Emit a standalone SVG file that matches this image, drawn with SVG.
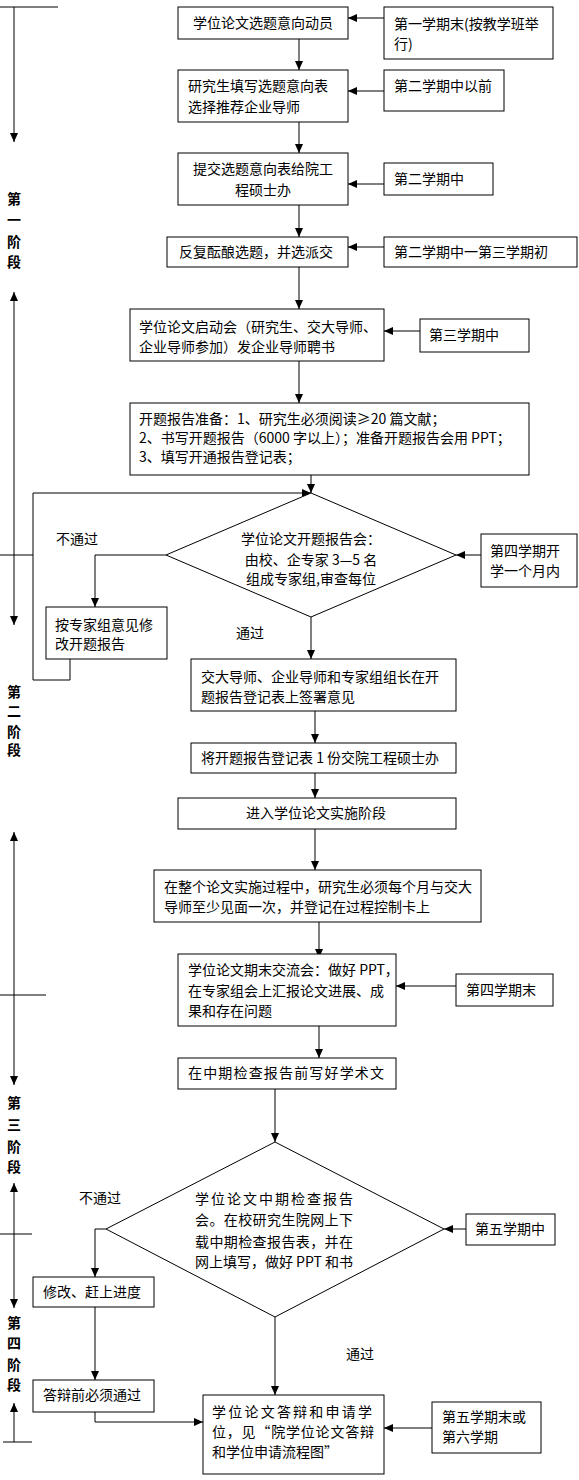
<svg xmlns="http://www.w3.org/2000/svg" width="579" height="1480" viewBox="0 0 579 1480">
<style>
.b{fill:#fff;stroke:#000;stroke-width:1}
.t{font-family:"Noto Sans CJK SC","Liberation Serif",sans-serif;font-size:14px;fill:#000}
.m{text-anchor:middle}
.s{font-family:"Noto Sans CJK SC",sans-serif;font-size:14px;font-weight:bold;text-anchor:middle;fill:#000}
.c{fill:none;stroke:#000;stroke-width:1}
</style>
<defs>
<marker id="a" markerUnits="userSpaceOnUse" markerWidth="9" markerHeight="8" refX="9" refY="4" orient="auto-start-reverse" viewBox="0 0 9 8"><path d="M0,0L9,4L0,8z" fill="#000"/></marker>
</defs>
<rect width="579" height="1480" fill="#fff"/>
<g id="connectors">
<line class="c" x1="0" y1="7" x2="58" y2="7"/>
<line class="c" x1="14" y1="7" x2="14" y2="142" marker-end="url(#a)"/>
<line class="c" x1="14" y1="292" x2="14" y2="625" marker-start="url(#a)" marker-end="url(#a)"/>
<line class="c" x1="0" y1="555" x2="33" y2="555"/>
<line class="c" x1="14" y1="832" x2="14" y2="1085" marker-start="url(#a)" marker-end="url(#a)"/>
<line class="c" x1="0" y1="995" x2="46" y2="995"/>
<line class="c" x1="14" y1="1183" x2="14" y2="1308" marker-start="url(#a)" marker-end="url(#a)"/>
<line class="c" x1="0" y1="1234" x2="32" y2="1234"/>
<line class="c" x1="14" y1="1442" x2="14" y2="1403" marker-end="url(#a)"/>
<line class="c" x1="3" y1="1442" x2="32" y2="1442"/>
<line class="c" x1="384" y1="18" x2="348" y2="18" marker-end="url(#a)"/>
<line class="c" x1="384" y1="91" x2="348" y2="91" marker-end="url(#a)"/>
<line class="c" x1="384" y1="184" x2="348" y2="184" marker-end="url(#a)"/>
<line class="c" x1="384" y1="247" x2="348" y2="247" marker-end="url(#a)"/>
<line class="c" x1="299" y1="39" x2="299" y2="70" marker-end="url(#a)"/>
<line class="c" x1="299" y1="122" x2="299" y2="153" marker-end="url(#a)"/>
<line class="c" x1="299" y1="205" x2="299" y2="237" marker-end="url(#a)"/>
<line class="c" x1="299" y1="267" x2="299" y2="309" marker-end="url(#a)"/>
<line class="c" x1="299" y1="361" x2="299" y2="403" marker-end="url(#a)"/>
<line class="c" x1="420" y1="331" x2="384" y2="331" marker-end="url(#a)"/>
<line class="c" x1="311" y1="475" x2="311" y2="493" marker-end="url(#a)"/>
<line class="c" x1="481" y1="555" x2="456" y2="555" marker-end="url(#a)"/>
<polyline class="c" points="166,555 95,555 95,607" marker-end="url(#a)"/>
<polyline class="c" points="70,659 70,680 33,680 33,493 311,493" marker-end="url(#a)"/>
<line class="c" x1="311" y1="617" x2="311" y2="659" marker-end="url(#a)"/>
<line class="c" x1="315" y1="711" x2="315" y2="743" marker-end="url(#a)"/>
<line class="c" x1="315" y1="773" x2="315" y2="798" marker-end="url(#a)"/>
<line class="c" x1="315" y1="829" x2="315" y2="870" marker-end="url(#a)"/>
<line class="c" x1="319" y1="922" x2="319" y2="958" marker-end="url(#a)"/>
<line class="c" x1="456" y1="986" x2="396" y2="986" marker-end="url(#a)"/>
<line class="c" x1="319" y1="1026" x2="319" y2="1058" marker-end="url(#a)"/>
<line class="c" x1="275" y1="1089" x2="275" y2="1142" marker-end="url(#a)"/>
<line class="c" x1="466" y1="1229" x2="444" y2="1229" marker-end="url(#a)"/>
<polyline class="c" points="106,1229 95,1229 95,1277" marker-end="url(#a)"/>
<line class="c" x1="95" y1="1307" x2="95" y2="1380" marker-end="url(#a)"/>
<polyline class="c" points="95,1412 95,1422 203,1422" marker-end="url(#a)"/>
<line class="c" x1="275" y1="1317" x2="275" y2="1395" marker-end="url(#a)"/>
<line class="c" x1="432" y1="1428" x2="384" y2="1428" marker-end="url(#a)"/>
</g>
<g id="stages">
<text class="s" x="14" y="204">第</text><text class="s" x="14" y="225">一</text><text class="s" x="14" y="247">阶</text><text class="s" x="14" y="267">段</text>
<text class="s" x="14" y="697">第</text><text class="s" x="14" y="716">二</text><text class="s" x="14" y="737">阶</text><text class="s" x="14" y="755">段</text>
<text class="s" x="14" y="1108">第</text><text class="s" x="14" y="1130">三</text><text class="s" x="14" y="1152">阶</text><text class="s" x="14" y="1172">段</text>
<text class="s" x="14" y="1328">第</text><text class="s" x="14" y="1348">四</text><text class="s" x="14" y="1370">阶</text><text class="s" x="14" y="1390">段</text>
</g>
<g id="n1"><rect class="b" x="178" y="7" width="170" height="32"/><text class="t m" x="263" y="28">学位论文选题意向动员</text></g>
<g id="r1"><rect class="b" x="384" y="7" width="169" height="52"/><text class="t" x="394" y="29">第一学期末(按教学班举</text><text class="t" x="394" y="49">行)</text></g>
<g id="n2"><rect class="b" x="178" y="70" width="170" height="52"/><text class="t" x="188" y="91">研究生填写选题意向表</text><text class="t" x="188" y="112">选择推荐企业导师</text></g>
<g id="r2"><rect class="b" x="384" y="70" width="120" height="41"/><text class="t" x="394" y="91">第二学期中以前</text></g>
<g id="n3"><rect class="b" x="178" y="153" width="170" height="52"/><text class="t m" x="263" y="174">提交选题意向表给院工</text><text class="t m" x="263" y="195">程硕士办</text></g>
<g id="r3"><rect class="b" x="384" y="163" width="109" height="32"/><text class="t" x="394" y="184">第二学期中</text></g>
<g id="n4"><rect class="b" x="167" y="237" width="181" height="30"/><text class="t m" x="256" y="257">反复酝酿选题，并选派交</text></g>
<g id="r4"><rect class="b" x="384" y="237" width="193" height="30"/><text class="t" x="394" y="257">第二学期中一第三学期初</text></g>
<g id="n5"><rect class="b" x="130" y="309" width="254" height="52"/><text class="t" x="139" y="332">学位论文启动会（研究生、交大导师、</text><text class="t" x="139" y="352">企业导师参加）发企业导师聘书</text></g>
<g id="r5"><rect class="b" x="420" y="319" width="109" height="33"/><text class="t" x="429" y="340">第三学期中</text></g>
<g id="n6"><rect class="b" x="130" y="403" width="399" height="72"/><text class="t" x="139" y="424">开题报告准备：1、研究生必须阅读≥20 篇文献；</text><text class="t" x="139" y="443">2、书写开题报告（6000 字以上）；准备开题报告会用 PPT；</text><text class="t" x="139" y="462">3、填写开通报告登记表；</text></g>
<g id="d1"><polygon class="b" points="311,493 456,555 311,617 166,555"/><text class="t m" x="311" y="544">学位论文开题报告会：</text><text class="t m" x="311" y="565">由校、企专家 3—5 名</text><text class="t m" x="311" y="584">组成专家组,审查每位</text></g>
<g id="r6"><rect class="b" x="481" y="534" width="96" height="53"/><text class="t" x="490" y="556">第四学期开</text><text class="t" x="490" y="576">学一个月内</text></g>
<g id="l1"><text class="t" x="56" y="544">不通过</text></g>
<g id="n7"><rect class="b" x="46" y="607" width="121" height="52"/><text class="t" x="55" y="630">按专家组意见修</text><text class="t" x="55" y="649">改开题报告</text></g>
<g id="l2"><text class="t" x="236" y="638">通过</text></g>
<g id="n8"><rect class="b" x="191" y="659" width="265" height="52"/><text class="t" x="201" y="682">交大导师、企业导师和专家组组长在开</text><text class="t" x="201" y="702">题报告登记表上签署意见</text></g>
<g id="n9"><rect class="b" x="191" y="743" width="265" height="30"/><text class="t" x="201" y="763">将开题报告登记表 1 份交院工程硕士办</text></g>
<g id="n10"><rect class="b" x="178" y="798" width="278" height="31"/><text class="t m" x="316" y="818">进入学位论文实施阶段</text></g>
<g id="n11"><rect class="b" x="154" y="870" width="327" height="52"/><text class="t" x="164" y="892">在整个论文实施过程中，研究生必须每个月与交大</text><text class="t" x="164" y="912">导师至少见面一次，并登记在过程控制卡上</text></g>
<g id="n12"><rect class="b" x="178" y="954" width="218" height="72"/><text class="t" x="188" y="975">学位论文期末交流会：做好 PPT，</text><text class="t" x="188" y="996">在专家组会上汇报论文进展、成</text><text class="t" x="188" y="1016">果和存在问题</text></g>
<g id="r7"><rect class="b" x="456" y="974" width="97" height="32"/><text class="t" x="466" y="995">第四学期末</text></g>
<g id="n13"><rect class="b" x="178" y="1058" width="218" height="31"/><text class="t" x="188" y="1078" textLength="196" lengthAdjust="spacing">在中期检查报告前写好学术文</text></g>
<g id="d2"><polygon class="b" points="275,1142 444,1229 275,1317 106,1229"/><text class="t" x="195" y="1204" textLength="158" lengthAdjust="spacing">学位论文中期检查报告</text><text class="t" x="195" y="1225" textLength="158" lengthAdjust="spacing">会。在校研究生院网上下</text><text class="t" x="195" y="1247" textLength="158" lengthAdjust="spacing">载中期检查报告表，并在</text><text class="t" x="195" y="1267" textLength="158" lengthAdjust="spacing">网上填写，做好 PPT 和书</text></g>
<g id="r8"><rect class="b" x="466" y="1214" width="89" height="31"/><text class="t" x="475" y="1234">第五学期中</text></g>
<g id="l3"><text class="t" x="79" y="1203">不通过</text></g>
<g id="n14"><rect class="b" x="33" y="1277" width="121" height="30"/><text class="t" x="43" y="1297">修改、赶上进度</text></g>
<g id="n15"><rect class="b" x="33" y="1380" width="121" height="32"/><text class="t" x="43" y="1400">答辩前必须通过</text></g>
<g id="l4"><text class="t" x="346" y="1359">通过</text></g>
<g id="n16"><rect class="b" x="203" y="1395" width="181" height="79"/><text class="t" x="212" y="1417" textLength="160" lengthAdjust="spacing">学位论文答辩和申请学</text><text class="t" x="212" y="1437" textLength="162" lengthAdjust="spacing">位，见“院学位论文答辩</text><text class="t" x="212" y="1457">和学位申请流程图”</text></g>
<g id="r9"><rect class="b" x="432" y="1402" width="109" height="51"/><text class="t" x="442" y="1422">第五学期末或</text><text class="t" x="442" y="1442">第六学期</text></g>
</svg>
